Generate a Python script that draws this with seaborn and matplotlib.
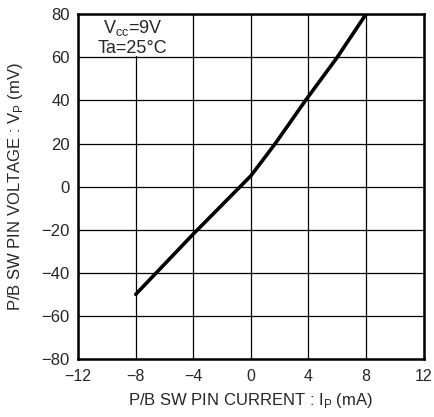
import numpy as np
import pandas as pd
import matplotlib
matplotlib.use("Agg")
import matplotlib.pyplot as plt
import seaborn as sns
from matplotlib.patches import Rectangle

# curve
current_ma = [-8, -4, 0, 1.7, 3.8, 6.0, 8]
voltage_mv = [-50, -22, 5, 20, 40, 60, 80]

x_ticks = [-12, -8, -4, 0, 4, 8, 12]
y_ticks = [-80, -60, -40, -20, 0, 20, 40, 60, 80]

df = pd.DataFrame({"Ip": current_ma, "Vp": voltage_mv})

sns.set_style("white")
plt.rcParams["font.family"] = ["Liberation Sans", "DejaVu Sans"]

fig = plt.figure(figsize=(4.34, 4.17), dpi=100)
ax = fig.add_axes([0.18, 0.139, 0.796, 0.827])

sns.lineplot(data=df, x="Ip", y="Vp", color="black", linewidth=2.6, ax=ax, sort=False)

ax.set_xlim(-12, 12)
ax.set_ylim(-80, 80)
ax.set_xticks(x_ticks)
ax.set_yticks(y_ticks)
ax.set_xticklabels([("\u2212" + str(-t)) if t < 0 else str(t) for t in x_ticks], fontsize=11.5)
ax.set_yticklabels([("\u2212" + str(-t)) if t < 0 else str(t) for t in y_ticks], fontsize=12)
ax.grid(True, color="black", linewidth=0.9)
ax.tick_params(axis="y", length=0, pad=6)
ax.tick_params(axis="x", length=0, pad=7)
for s in ax.spines.values():
    s.set_color("black")
    s.set_linewidth(1.8)

ax.set_xlabel("P/B SW PIN CURRENT : I$_\\mathregular{P}$ (mA)", fontsize=12, labelpad=5)
ax.set_ylabel("P/B SW PIN VOLTAGE : V$_\\mathregular{P}$ (mV)", fontsize=12, labelpad=12)

# white patch behind the conditions text
ax.add_patch(Rectangle((-11.9, 60.8), 7.7, 19, facecolor="white", edgecolor="none", zorder=1))
ax.text(-8.2, 78, "V$_\\mathregular{cc}$=9V\nTa=25\u00b0C", fontsize=13, ha="center", va="top",
        multialignment="center", linespacing=1.15, zorder=2)

fig.savefig("out.png", dpi=100)
